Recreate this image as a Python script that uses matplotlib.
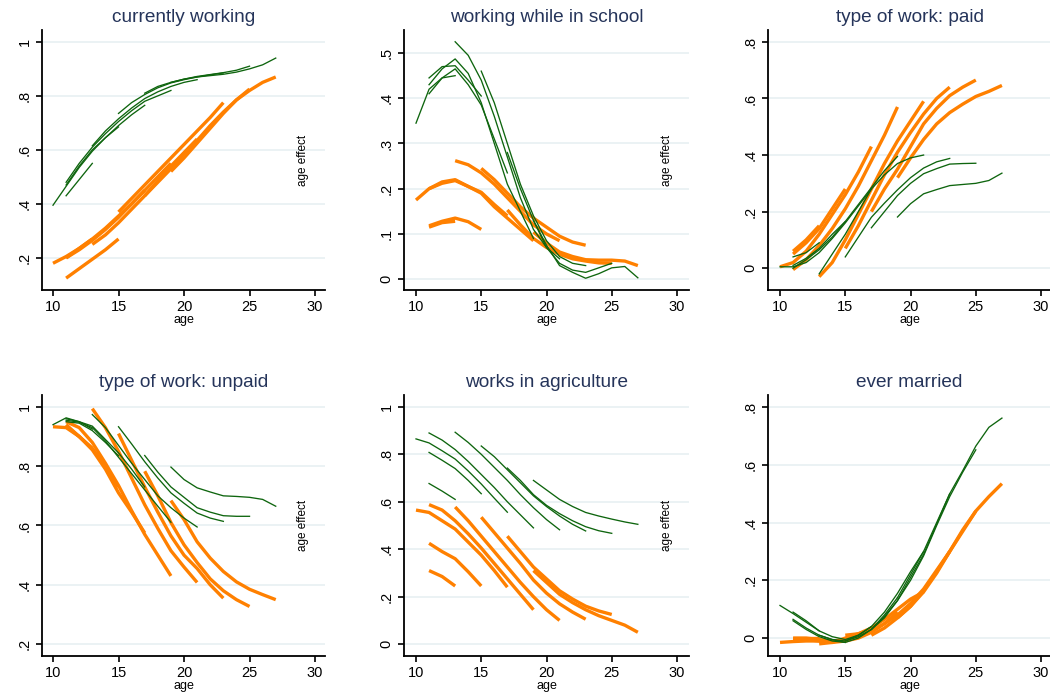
import matplotlib
matplotlib.use("Agg")
import matplotlib.pyplot as plt

plt.rcParams['font.family'] = ['Liberation Sans', 'DejaVu Sans']

# each cohort is observed over a window of ages
seg_start = [11, 11, 10, 11, 13, 15, 17, 19]
seg_end = [13, 15, 17, 19, 21, 23, 25, 27]

titles = ["currently working", "working while in school", "type of work: paid",
          "type of work: unpaid", "works in agriculture", "ever married"]

# --- currently working
work_green = [
    [0.43, 0.49, 0.55],
    [0.47, 0.54, 0.60, 0.645, 0.685],
    [0.395, 0.465, 0.535, 0.595, 0.645, 0.69, 0.73, 0.765],
    [0.48, 0.55, 0.61, 0.66, 0.705, 0.745, 0.78, 0.80, 0.82],
    [0.615, 0.67, 0.715, 0.755, 0.79, 0.815, 0.835, 0.85, 0.86],
    [0.735, 0.775, 0.805, 0.83, 0.848, 0.86, 0.87, 0.878, 0.885],
    [0.81, 0.835, 0.85, 0.862, 0.872, 0.879, 0.886, 0.895, 0.91],
    [0.85, 0.862, 0.87, 0.875, 0.88, 0.888, 0.90, 0.915, 0.94],
]
work_orange = [
    [0.20, 0.235, 0.27],
    [0.125, 0.16, 0.195, 0.23, 0.27],
    [0.18, 0.205, 0.235, 0.27, 0.31, 0.355, 0.40, 0.45],
    [0.20, 0.23, 0.265, 0.305, 0.35, 0.40, 0.45, 0.50, 0.55],
    [0.25, 0.285, 0.33, 0.38, 0.43, 0.485, 0.54, 0.59, 0.64],
    [0.37, 0.42, 0.47, 0.52, 0.57, 0.62, 0.67, 0.72, 0.775],
    [0.43, 0.48, 0.53, 0.585, 0.635, 0.69, 0.74, 0.785, 0.825],
    [0.52, 0.57, 0.625, 0.68, 0.735, 0.785, 0.82, 0.85, 0.87],
]

# --- working while in school
school_green = [
    [0.41, 0.445, 0.45],
    [0.445, 0.47, 0.472, 0.44, 0.405],
    [0.345, 0.42, 0.445, 0.465, 0.43, 0.385, 0.31, 0.235],
    [0.43, 0.465, 0.487, 0.455, 0.39, 0.30, 0.21, 0.15, 0.09],
    [0.525, 0.495, 0.44, 0.36, 0.27, 0.18, 0.11, 0.07, 0.045],
    [0.46, 0.39, 0.30, 0.21, 0.14, 0.085, 0.05, 0.035, 0.03],
    [0.28, 0.20, 0.13, 0.07, 0.035, 0.02, 0.015, 0.025, 0.035],
    [0.13, 0.075, 0.03, 0.015, 0.002, 0.012, 0.025, 0.028, 0.003],
]
school_orange = [
    [0.115, 0.125, 0.128],
    [0.118, 0.128, 0.135, 0.127, 0.11],
    [0.175, 0.20, 0.212, 0.218, 0.205, 0.192, 0.165, 0.14],
    [0.20, 0.215, 0.22, 0.205, 0.19, 0.16, 0.135, 0.11, 0.085],
    [0.262, 0.253, 0.235, 0.21, 0.18, 0.15, 0.12, 0.10, 0.085],
    [0.245, 0.22, 0.19, 0.16, 0.135, 0.115, 0.095, 0.082, 0.075],
    [0.153, 0.12, 0.09, 0.07, 0.055, 0.045, 0.04, 0.036, 0.035],
    [0.104, 0.08, 0.06, 0.05, 0.043, 0.042, 0.042, 0.04, 0.03],
]

# --- type of work: paid
paid_green = [
    [0.04, 0.055, 0.09],
    [0.01, 0.035, 0.07, 0.12, 0.165],
    [0.005, 0.005, 0.02, 0.055, 0.105, 0.16, 0.22, 0.28],
    [0.0, 0.03, 0.065, 0.11, 0.165, 0.225, 0.285, 0.345, 0.395],
    [-0.02, 0.05, 0.12, 0.20, 0.28, 0.33, 0.37, 0.39, 0.40],
    [0.04, 0.11, 0.18, 0.23, 0.277, 0.32, 0.354, 0.376, 0.388],
    [0.143, 0.20, 0.257, 0.30, 0.334, 0.352, 0.368, 0.37, 0.371],
    [0.181, 0.228, 0.263, 0.278, 0.292, 0.296, 0.30, 0.31, 0.336],
]
paid_orange = [
    [0.06, 0.10, 0.15],
    [0.05, 0.09, 0.14, 0.21, 0.28],
    [0.005, 0.02, 0.06, 0.12, 0.19, 0.26, 0.34, 0.43],
    [-0.005, 0.03, 0.08, 0.14, 0.21, 0.29, 0.38, 0.47, 0.57],
    [-0.03, 0.02, 0.10, 0.19, 0.28, 0.37, 0.45, 0.52, 0.59],
    [0.07, 0.15, 0.24, 0.33, 0.41, 0.48, 0.545, 0.60, 0.64],
    [0.20, 0.28, 0.35, 0.43, 0.51, 0.565, 0.61, 0.64, 0.665],
    [0.32, 0.39, 0.455, 0.51, 0.55, 0.58, 0.607, 0.625, 0.646],
]

# --- type of work: unpaid
unpaid_green = [
    [0.96, 0.95, 0.925],
    [0.95, 0.945, 0.92, 0.88, 0.835],
    [0.94, 0.963, 0.95, 0.935, 0.89, 0.845, 0.79, 0.73],
    [0.955, 0.948, 0.93, 0.885, 0.83, 0.775, 0.72, 0.665, 0.611],
    [0.974, 0.93, 0.87, 0.81, 0.755, 0.70, 0.66, 0.625, 0.595],
    [0.933, 0.875, 0.815, 0.76, 0.71, 0.675, 0.642, 0.625, 0.614],
    [0.836, 0.78, 0.73, 0.695, 0.66, 0.645, 0.633, 0.631, 0.631],
    [0.797, 0.755, 0.727, 0.713, 0.70, 0.698, 0.695, 0.688, 0.665],
]
unpaid_orange = [
    [0.94, 0.90, 0.86],
    [0.935, 0.90, 0.86, 0.80, 0.73],
    [0.933, 0.93, 0.90, 0.855, 0.79, 0.71, 0.645, 0.575],
    [0.95, 0.93, 0.88, 0.81, 0.735, 0.65, 0.57, 0.50, 0.43],
    [0.994, 0.93, 0.85, 0.76, 0.67, 0.59, 0.515, 0.46, 0.408],
    [0.91, 0.82, 0.73, 0.645, 0.565, 0.50, 0.455, 0.40, 0.355],
    [0.783, 0.70, 0.61, 0.535, 0.475, 0.42, 0.38, 0.35, 0.327],
    [0.684, 0.62, 0.545, 0.49, 0.445, 0.41, 0.385, 0.367, 0.35],
]

# --- works in agriculture
agri_green = [
    [0.677, 0.645, 0.61],
    [0.808, 0.775, 0.74, 0.69, 0.634],
    [0.865, 0.848, 0.815, 0.78, 0.73, 0.675, 0.615, 0.556],
    [0.89, 0.86, 0.82, 0.77, 0.715, 0.66, 0.60, 0.545, 0.49],
    [0.893, 0.85, 0.80, 0.745, 0.69, 0.63, 0.575, 0.525, 0.482],
    [0.835, 0.79, 0.735, 0.68, 0.625, 0.58, 0.54, 0.505, 0.477],
    [0.742, 0.69, 0.63, 0.585, 0.55, 0.52, 0.495, 0.478, 0.467],
    [0.69, 0.65, 0.61, 0.58, 0.555, 0.54, 0.527, 0.515, 0.505],
]
agri_orange = [
    [0.31, 0.285, 0.245],
    [0.425, 0.39, 0.36, 0.305, 0.245],
    [0.565, 0.555, 0.52, 0.485, 0.43, 0.375, 0.31, 0.24],
    [0.588, 0.565, 0.52, 0.465, 0.405, 0.34, 0.275, 0.21, 0.145],
    [0.578, 0.52, 0.455, 0.39, 0.325, 0.26, 0.20, 0.145, 0.10],
    [0.535, 0.47, 0.405, 0.34, 0.27, 0.215, 0.17, 0.135, 0.105],
    [0.455, 0.39, 0.325, 0.275, 0.225, 0.19, 0.16, 0.14, 0.125],
    [0.31, 0.26, 0.21, 0.175, 0.145, 0.12, 0.10, 0.08, 0.05],
]

# --- ever married
married_green = [
    [0.09, 0.06, 0.025],
    [0.065, 0.035, 0.01, -0.005, -0.015],
    [0.113, 0.085, 0.055, 0.025, 0.005, -0.005, 0.01, 0.04],
    [0.06, 0.03, 0.005, -0.01, -0.015, 0.0, 0.03, 0.08, 0.14],
    [0.01, -0.005, -0.01, 0.01, 0.04, 0.09, 0.155, 0.23, 0.30],
    [-0.01, 0.005, 0.03, 0.075, 0.13, 0.21, 0.29, 0.395, 0.50],
    [0.03, 0.07, 0.13, 0.20, 0.285, 0.39, 0.49, 0.575, 0.652],
    [0.14, 0.22, 0.30, 0.40, 0.50, 0.58, 0.665, 0.73, 0.762],
]
married_orange = [
    [0.0, 0.0, 0.0],
    [0.0, 0.0, -0.005, -0.01, -0.01],
    [-0.015, -0.012, -0.01, -0.01, -0.01, -0.005, 0.01, 0.03],
    [-0.005, -0.005, -0.01, -0.015, -0.01, 0.0, 0.02, 0.05, 0.09],
    [-0.02, -0.015, 0.0, 0.015, 0.035, 0.065, 0.10, 0.135, 0.16],
    [0.01, 0.015, 0.025, 0.05, 0.08, 0.12, 0.17, 0.235, 0.30],
    [0.01, 0.035, 0.07, 0.11, 0.165, 0.23, 0.30, 0.37, 0.44],
    [0.07, 0.11, 0.16, 0.225, 0.30, 0.375, 0.44, 0.49, 0.535],
]

greens = [work_green, school_green, paid_green, unpaid_green, agri_green, married_green]
oranges = [work_orange, school_orange, paid_orange, unpaid_orange, agri_orange, married_orange]

yticks = [
    ([0.2, 0.4, 0.6, 0.8, 1.0], [".2", ".4", ".6", ".8", "1"]),
    ([0, 0.1, 0.2, 0.3, 0.4, 0.5], ["0", ".1", ".2", ".3", ".4", ".5"]),
    ([0, 0.2, 0.4, 0.6, 0.8], ["0", ".2", ".4", ".6", ".8"]),
    ([0.2, 0.4, 0.6, 0.8, 1.0], [".2", ".4", ".6", ".8", "1"]),
    ([0, 0.2, 0.4, 0.6, 0.8, 1.0], ["0", ".2", ".4", ".6", ".8", "1"]),
    ([0, 0.2, 0.4, 0.6, 0.8], ["0", ".2", ".4", ".6", ".8"]),
]
ylims = [(0.081, 1.044), (-0.024, 0.551), (-0.077, 0.842),
         (0.16, 1.04), (-0.05, 1.05), (-0.062, 0.842)]
xticks = [10, 15, 20, 25, 30]

GREEN = "#0e650e"
ORANGE = "#ff8000"
TITLE_COL = "#25345a"

fig = plt.figure(figsize=(10.5, 6.96), dpi=100)

lefts = [42 / 1050, 404 / 1050, 768 / 1050]
widths = [283 / 1050, 285 / 1050, 283 / 1050]
xlims = [(9.16, 30.76), (9.08, 30.92), (9.08, 30.76)]
bottoms = [1 - 290 / 696, 1 - 656 / 696]
heights = [260 / 696, 261 / 696]

for i in range(6):
    r, c = divmod(i, 3)
    ax = fig.add_axes([lefts[c], bottoms[r], widths[c], heights[r]])
    for vals, s, e in zip(oranges[i], seg_start, seg_end):
        ax.plot(range(s, e + 1), vals, color=ORANGE, lw=2.4, solid_capstyle='butt', zorder=2)
    for vals, s, e in zip(greens[i], seg_start, seg_end):
        ax.plot(range(s, e + 1), vals, color=GREEN, lw=0.95, zorder=3)

    ax.set_xlim(*xlims[c])
    ax.set_ylim(*ylims[i])
    ax.set_xticks(xticks)
    ax.set_xticklabels([str(t) for t in xticks], fontsize=10.5)
    ax.set_yticks(yticks[i][0])
    ax.set_yticklabels(yticks[i][1], fontsize=10.5, rotation=90, va='center')
    ax.grid(axis='y', color='#e8f0f2', lw=1.2, zorder=0)
    ax.set_axisbelow(True)
    for sp in ['top', 'right']:
        ax.spines[sp].set_visible(False)
    for sp in ['left', 'bottom']:
        ax.spines[sp].set_linewidth(1.3)
    ax.tick_params(length=4.5, width=1.2, pad=3)
    ax.set_xlabel("age", fontsize=9, labelpad=0)
    ax.set_title(titles[i], fontsize=13.7, color=TITLE_COL, pad=6)

# y titles of the neighbouring panels overlap the right edge of panels
for x in [303, 667]:
    for y in [160, 525]:
        fig.text(x / 1050, 1 - y / 696, "age effect", rotation=90,
                 ha='center', va='center', fontsize=8.5)

fig.savefig("out.png", dpi=100, facecolor='white')
